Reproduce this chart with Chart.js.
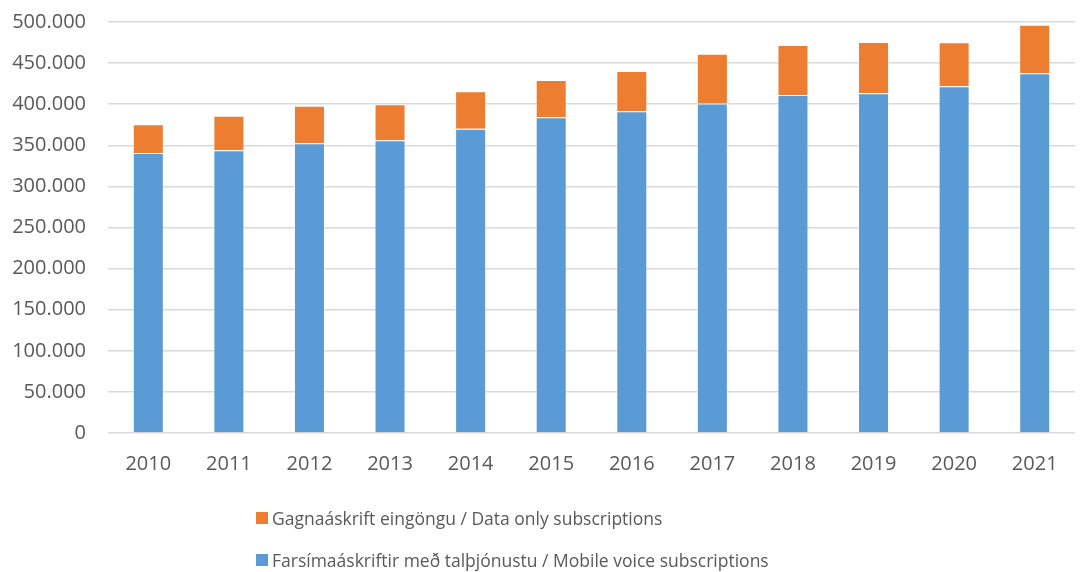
<!DOCTYPE html>
<html>
<head>
<meta charset="utf-8">
<script src="https://cdn.jsdelivr.net/npm/chart.js@4/dist/chart.umd.min.js"></script>
<style>
    html, body { margin: 0; padding: 0; background: #fff; }
    #wrap { position: relative; width: 1089px; height: 572px; }
    #legend { position: absolute; left: 256px; top: 505px; font-family: "Open Sans", sans-serif; font-size: 17.5px; color: #595959; }
    .item { display: flex; align-items: center; height: 26px; margin-bottom: 16px; white-space: nowrap; }
    .box { width: 12px; height: 12px; margin-right: 4px; }
</style>
</head>
<body>
<div id="wrap">
    <canvas id="chart" width="1089" height="572"></canvas>
    <div id="legend"></div>
</div>
<script>
const years = ['2010', '2011', '2012', '2013', '2014', '2015', '2016', '2017', '2018', '2019', '2020', '2021'];
const voiceSubs = [340600, 344000, 352400, 356000, 370000, 384000, 391300, 401000, 411200, 413300, 421800, 437600];
const dataOnlySubs = [34900, 42000, 45600, 43900, 45700, 45400, 49100, 60400, 60800, 62400, 53500, 59100];
const voiceLabel = 'Farsímaáskriftir með talþjónustu / Mobile voice subscriptions';
const dataLabel = 'Gagnaáskrift eingöngu / Data only subscriptions';

const fontFamily = '"Open Sans", sans-serif';

function formatThousands(v) {
    return v.toString().replace(/\B(?=(\d{3})+(?!\d))/g, '.');
}

const chart = new Chart(document.getElementById('chart'), {
    type: 'bar',
    data: {
        labels: years,
        datasets: [
            {
                label: voiceLabel,
                data: voiceSubs,
                backgroundColor: '#5B9BD5',
                borderColor: 'rgba(255,255,255,0.5)',
                borderWidth: 1,
                categoryPercentage: 1,
                barPercentage: 0.385
            },
            {
                label: dataLabel,
                data: dataOnlySubs,
                backgroundColor: '#ED7D31',
                borderColor: 'rgba(255,255,255,0.5)',
                borderWidth: 1,
                categoryPercentage: 1,
                barPercentage: 0.385
            }
        ]
    },
    options: {
        responsive: false,
        animation: false,
        layout: { padding: { top: 22, right: 14, bottom: 89, left: 0 } },
        plugins: {
            legend: { display: false },
            tooltip: { enabled: false }
        },
        scales: {
            x: {
                stacked: true,
                grid: { display: false },
                border: { display: false },
                ticks: { color: '#595959', font: { family: fontFamily, size: 20 }, padding: 11 },
                afterFit: scale => { scale.height = 50; }
            },
            y: {
                stacked: true,
                min: 0,
                max: 500000,
                grid: { color: '#d9d9d9', lineWidth: 1.5, drawTicks: false },
                border: { display: false },
                ticks: {
                    stepSize: 50000,
                    color: '#595959',
                    padding: 22,
                    font: { family: fontFamily, size: 20 },
                    callback: v => formatThousands(v)
                },
                afterFit: scale => {
                    scale.width = 108;
                    scale.paddingTop = 0;
                    scale.paddingBottom = 0;
                }
            }
        }
    }
});

// legend in reverse dataset order, like the original
const legendDiv = document.getElementById('legend');
chart.data.datasets.slice().reverse().forEach(ds => {
    const item = document.createElement('div');
    item.className = 'item';
    const box = document.createElement('span');
    box.className = 'box';
    box.style.background = ds.backgroundColor;
    const txt = document.createElement('span');
    txt.textContent = ds.label;
    item.appendChild(box);
    item.appendChild(txt);
    legendDiv.appendChild(item);
});
</script>
</body>
</html>
